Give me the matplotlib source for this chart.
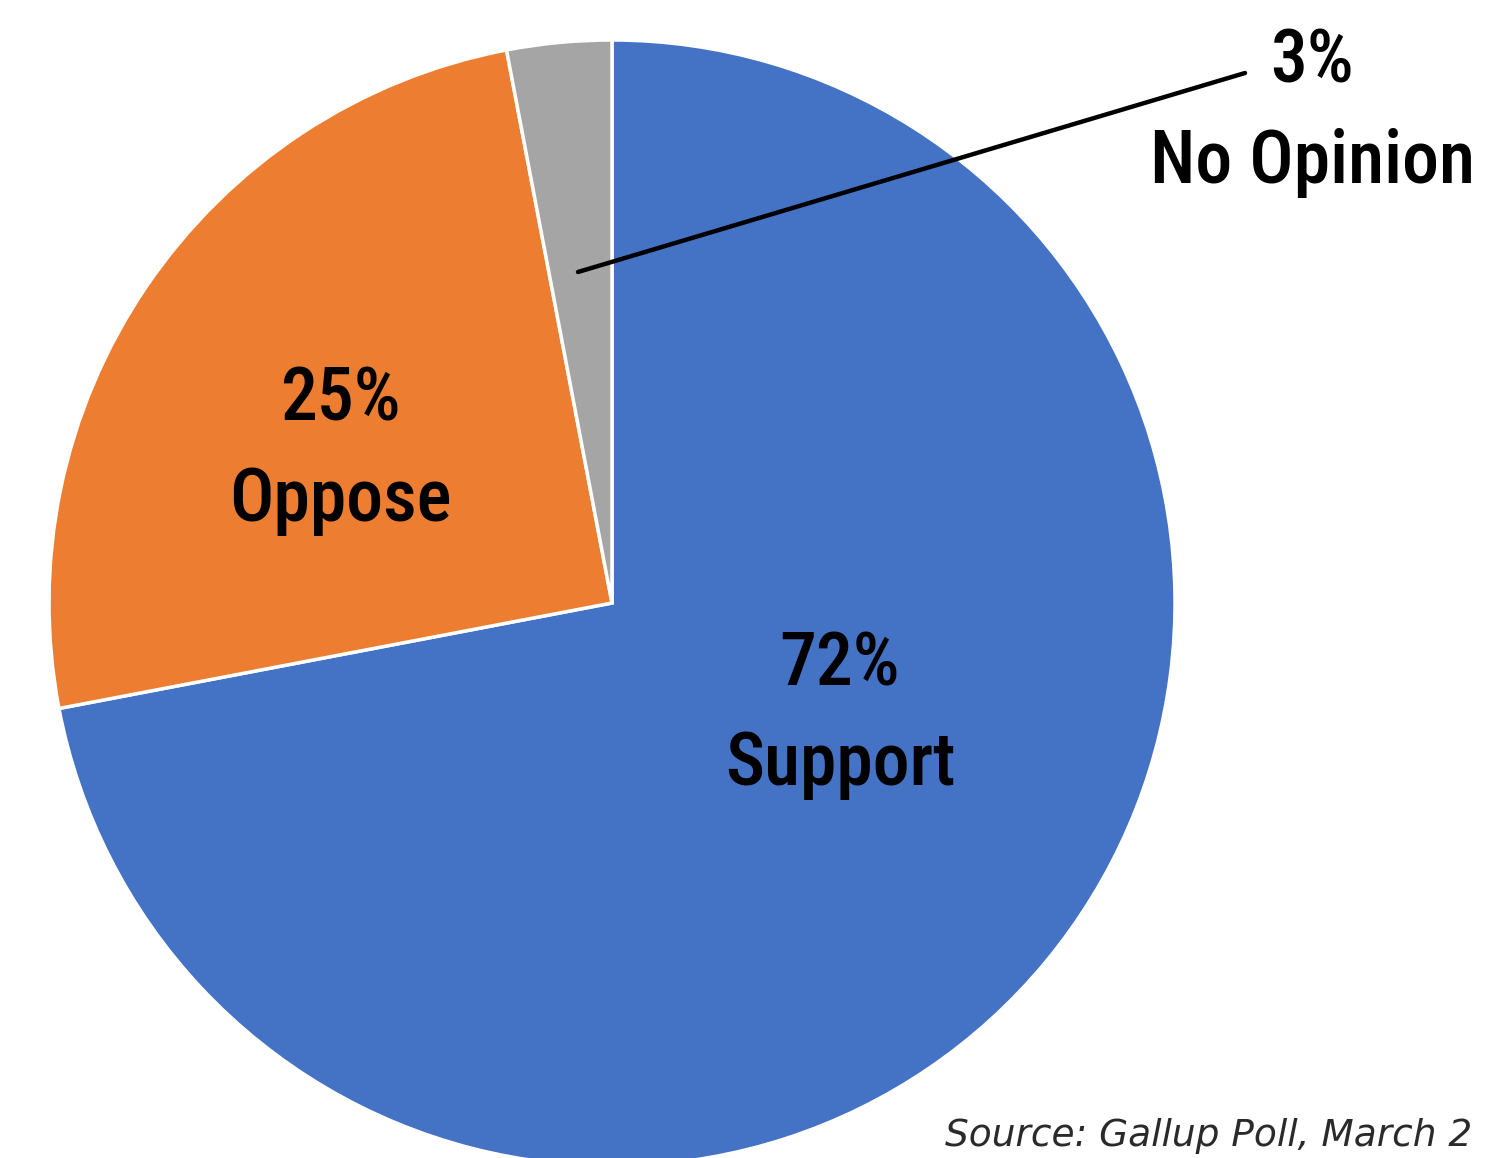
import matplotlib
matplotlib.use("Agg")
import matplotlib.pyplot as plt
from matplotlib import font_manager as fm

categories = ["Support", "Oppose", "No Opinion"]
values = [72, 25, 3]
colors = ["#4472C4", "#ED7D31", "#A5A5A5"]
source = "Source: Gallup Poll, March 2"

names = {f.name for f in fm.fontManager.ttflist}
cond = [n for n in ["Roboto Condensed", "Liberation Sans Narrow", "Open Sans Condensed", "Noto Sans", "DejaVu Sans"] if n in names]

W, H = 1502, 1158
fig = plt.figure(figsize=(W / 100, H / 100), dpi=100)
ax = fig.add_axes([0, 0, 1, 1])

cx, cy, r = 612, H - 603, 563
ax.pie(values, colors=colors, startangle=90, counterclock=False,
       center=(cx, cy), radius=r, frame=True,
       wedgeprops=dict(edgecolor="white", linewidth=2.5))
ax.set_xlim(0, W)
ax.set_ylim(0, H)
ax.set_aspect("equal")
ax.axis("off")

fs = 53
lab_kw = dict(ha="center", va="center", fontsize=fs, color="black",
              family=cond, fontweight="medium")
ax.text(340, H - 400, f"{values[1]}%", **lab_kw)
ax.text(340, H - 500, categories[1], **lab_kw)
ax.text(840, H - 665, f"{values[0]}%", **lab_kw)
ax.text(840, H - 765, categories[0], **lab_kw)
ax.text(1312, H - 62, f"{values[2]}%", **lab_kw)
ax.text(1313, H - 163, categories[2], **lab_kw)

ax.plot([578, 1245], [H - 272, H - 73], color="black", lw=3.2, solid_capstyle="round")

ax.text(945, H - 1136, source, ha="left", va="center", fontsize=27,
        style="italic", color="#2a2a2a", family=["DejaVu Sans"])

fig.savefig("out.png", dpi=100)
